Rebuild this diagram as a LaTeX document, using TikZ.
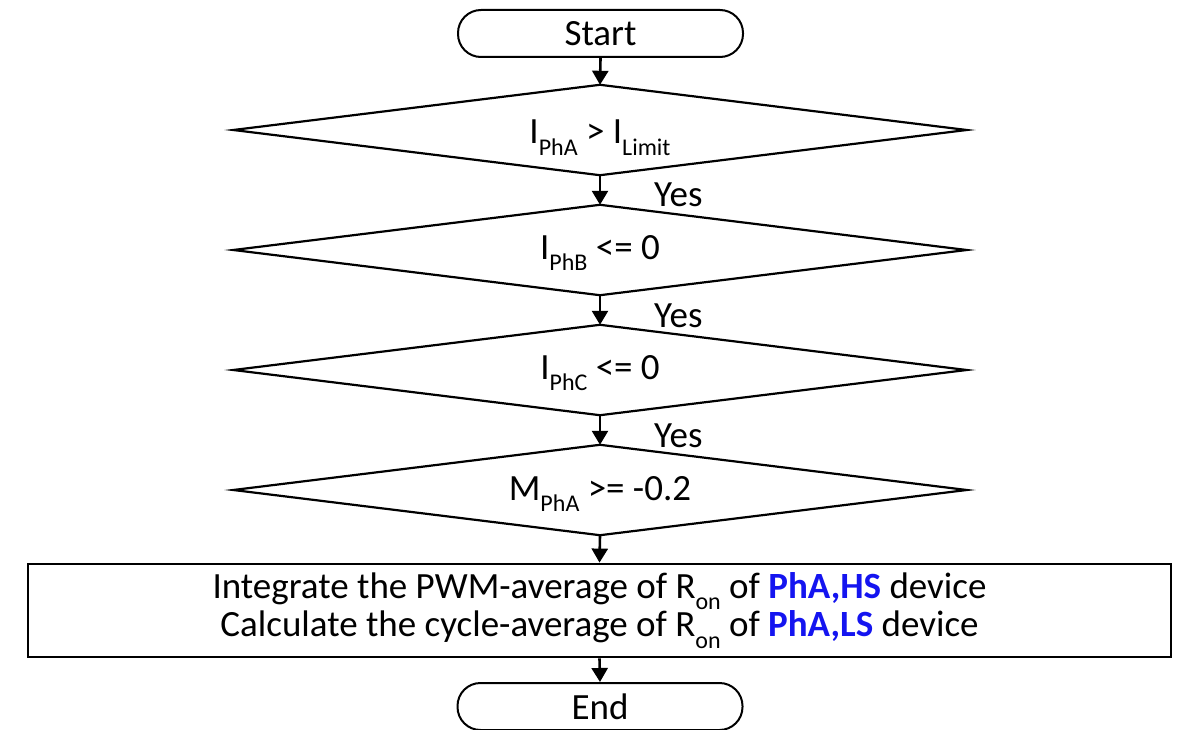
\documentclass[tikz,border=0pt]{standalone}
\usepackage{fontspec}
\setmainfont{Carlito}
\usetikzlibrary{arrows.meta}
\newcommand{\subx}[1]{\raisebox{-0.32em}{\fontsize{24}{24}\selectfont #1}}
\definecolor{hiblue}{RGB}{20,20,240}
\begin{document}
\begin{tikzpicture}[x=1pt,y=-1pt,
  txt/.style={font=\fontsize{37}{37}\selectfont},
  term/.style={draw,line width=2pt,rounded corners=23pt,minimum width=285pt,minimum height=47pt,inner sep=0pt,txt},
  dshape/.style={minimum width=733pt,minimum height=90pt,inner sep=0pt},
  dline/.style={line width=2.2pt},
  dtext/.style={inner sep=0pt,txt},
  procbox/.style={draw,line width=2.8pt,minimum width=1143pt,minimum height=93pt,inner sep=0pt,align=center,txt},
  flow/.style={line width=2.6pt,-{Triangle[length=14pt,width=16pt]}},
  yeslabel/.style={anchor=west,inner sep=0pt,txt}]
\useasboundingbox (0,0) rectangle (1181,730);
\node[term] (start) at (600.5,33.5) {Start};
\node[dshape] (d1) at (600,130) {};
\node[dshape] (d2) at (600,250) {};
\node[dshape] (d3) at (600,370) {};
\node[dshape] (d4) at (600,490) {};
\foreach \d in {d1,d2,d3,d4}
  \draw[dline] (\d.west) -- (\d.north) -- (\d.east) -- (\d.south) -- cycle;
\node[dtext] (t1) at (600,138) {I\subx{PhA} > I\subx{Limit}};
\node[dtext] (t2) at (600,253) {I\subx{PhB} <= 0};
\node[dtext] (t3) at (600,373) {I\subx{PhC} <= 0};
\node[dtext] (t4) at (600,494) {M\subx{PhA} >= -0.2};
\node[procbox] (box) at (599.5,610.5) {Integrate the PWM-average of R\subx{on} of \textcolor{hiblue}{\textbf{PhA,HS}} device\\
Calculate the cycle-average of R\subx{on} of \textcolor{hiblue}{\textbf{PhA,LS}} device};
\node[term] (end) at (600,706.5) {End};
\draw[flow] (start.south) -- (d1.north);
\draw[flow] (d1.south) -- (d2.north);
\draw[flow] (d2.south) -- (d3.north);
\draw[flow] (d3.south) -- (d4.north);
\draw[flow] (d4.south) -- (box.north);
\draw[flow] (box.south) -- (end.north);
\node[yeslabel] (y1) at (654,195) {Yes};
\node[yeslabel] (y2) at (654,316) {Yes};
\node[yeslabel] (y3) at (654,436) {Yes};
\end{tikzpicture}
\end{document}
